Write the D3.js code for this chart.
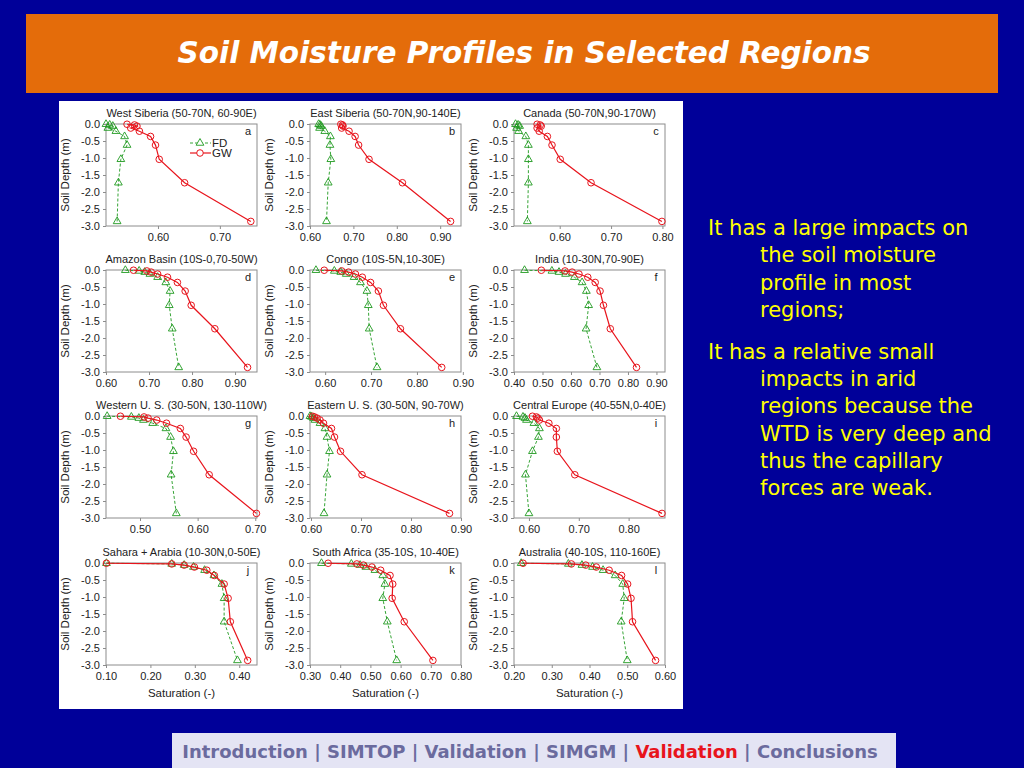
<!DOCTYPE html>
<html>
<head>
<meta charset="utf-8">
<script src="https://cdn.jsdelivr.net/npm/d3@7"></script>
<style>
  body { margin: 0; background: #000099; }
  svg { display: block; }
</style>
</head>
<body>
<svg id="slide" width="1024" height="768"></svg>
<script>
// data ////////////////////////////////////////////////////////////////
// CLM soil layer node depths (m), drawn negative
const depths = [-0.007, -0.028, -0.062, -0.119, -0.212, -0.366, -0.620, -1.038, -1.728, -2.865];

const regions = [
  "West Siberia (50-70N, 60-90E)", "East Siberia (50-70N,90-140E)", "Canada (50-70N,90-170W)",
  "Amazon Basin (10S-0,70-50W)", "Congo (10S-5N,10-30E)", "India (10-30N,70-90E)",
  "Western U. S. (30-50N, 130-110W)", "Eastern U. S. (30-50N, 90-70W)", "Central Europe (40-55N,0-40E)",
  "Sahara + Arabia (10-30N,0-50E)", "South Africa (35-10S, 10-40E)", "Australia (40-10S, 110-160E)"
];
const letters = ["a", "b", "c", "d", "e", "f", "g", "h", "i", "j", "k", "l"];

const xDomains = [
  [0.516, 0.760], [0.600, 0.948], [0.511, 0.805],
  [0.600, 0.951], [0.567, 0.896], [0.400, 0.930],
  [0.441, 0.703], [0.598, 0.900], [0.570, 0.873],
  [0.100, 0.440], [0.300, 0.800], [0.200, 0.600]
];
const xTicks = [
  [0.60, 0.70], [0.60, 0.70, 0.80, 0.90], [0.60, 0.70, 0.80],
  [0.60, 0.70, 0.80, 0.90], [0.60, 0.70, 0.80, 0.90], [0.40, 0.50, 0.60, 0.70, 0.80, 0.90],
  [0.50, 0.60, 0.70], [0.60, 0.70, 0.80, 0.90], [0.60, 0.70, 0.80],
  [0.10, 0.20, 0.30, 0.40], [0.30, 0.40, 0.50, 0.60, 0.70, 0.80], [0.20, 0.30, 0.40, 0.50, 0.60]
];
const yTicks = [0.0, -0.5, -1.0, -1.5, -2.0, -2.5, -3.0];

// saturation, FD run (free drainage)
const fdSat = [
  [0.516, 0.522, 0.527, 0.519, 0.532, 0.546, 0.550, 0.540, 0.536, 0.534],
  [0.620, 0.623, 0.626, 0.622, 0.634, 0.647, 0.646, 0.648, 0.642, 0.638],
  [0.514, 0.519, 0.522, 0.516, 0.520, 0.534, 0.539, 0.539, 0.539, 0.537],
  [0.645, 0.677, 0.690, 0.702, 0.720, 0.739, 0.749, 0.747, 0.754, 0.769],
  [0.580, 0.620, 0.634, 0.646, 0.663, 0.677, 0.691, 0.694, 0.696, 0.713],
  [0.437, 0.533, 0.558, 0.581, 0.612, 0.639, 0.654, 0.662, 0.653, 0.691],
  [0.443, 0.485, 0.498, 0.506, 0.522, 0.545, 0.553, 0.558, 0.554, 0.563],
  [0.598, 0.601, 0.605, 0.608, 0.618, 0.628, 0.632, 0.637, 0.632, 0.626],
  [0.575, 0.588, 0.592, 0.595, 0.610, 0.621, 0.619, 0.607, 0.593, 0.600],
  [0.101, 0.248, 0.276, 0.297, 0.322, 0.343, 0.361, 0.366, 0.366, 0.396],
  [0.338, 0.437, 0.466, 0.485, 0.515, 0.541, 0.548, 0.541, 0.556, 0.587],
  [0.219, 0.344, 0.380, 0.408, 0.436, 0.468, 0.488, 0.492, 0.484, 0.500]
];
// saturation, GW run (with groundwater)
const gwSat = [
  [0.550, 0.562, 0.566, 0.556, 0.570, 0.588, 0.596, 0.602, 0.643, 0.750],
  [0.671, 0.675, 0.676, 0.673, 0.690, 0.704, 0.712, 0.736, 0.813, 0.924],
  [0.556, 0.562, 0.564, 0.556, 0.560, 0.576, 0.585, 0.601, 0.661, 0.799],
  [0.664, 0.695, 0.705, 0.720, 0.743, 0.766, 0.784, 0.798, 0.853, 0.929],
  [0.598, 0.636, 0.651, 0.666, 0.681, 0.699, 0.716, 0.727, 0.764, 0.854],
  [0.496, 0.579, 0.604, 0.628, 0.659, 0.685, 0.702, 0.714, 0.738, 0.830],
  [0.466, 0.507, 0.514, 0.529, 0.546, 0.570, 0.580, 0.593, 0.620, 0.702],
  [0.603, 0.607, 0.612, 0.618, 0.625, 0.641, 0.647, 0.659, 0.702, 0.877],
  [0.607, 0.615, 0.618, 0.621, 0.640, 0.655, 0.655, 0.657, 0.692, 0.867],
  [0.101, 0.248, 0.276, 0.299, 0.327, 0.344, 0.366, 0.375, 0.380, 0.419],
  [0.360, 0.455, 0.477, 0.505, 0.534, 0.565, 0.574, 0.572, 0.612, 0.707],
  [0.224, 0.352, 0.390, 0.418, 0.452, 0.485, 0.501, 0.510, 0.514, 0.575]
];

const noteParagraphs = [
  ["It has a large impacts on", "the soil moisture", "profile in most", "regions;"],
  ["It has a relative small", "impacts in arid", "regions because the", "WTD is very deep and", "thus the capillary", "forces are weak."]
];
const navItems = ["Introduction", "SIMTOP", "Validation", "SIMGM", "Validation", "Conclusions"];
const navCurrent = 4;

// slide frame /////////////////////////////////////////////////////////
const svg = d3.select("#slide");
const plotFont = "'Liberation Sans', Arial, sans-serif";
const slideFont = "'DejaVu Sans', sans-serif";

svg.append("rect").attr("width", 1024).attr("height", 768).attr("fill", "#000099");

svg.append("rect")
  .attr("x", 26).attr("y", 14).attr("width", 972).attr("height", 79)
  .attr("fill", "#E46C0A");

svg.append("text")
  .attr("x", 524).attr("y", 63)
  .attr("text-anchor", "middle")
  .attr("font-family", slideFont)
  .attr("font-size", 29.5)
  .attr("font-weight", "bold")
  .attr("font-style", "italic")
  .attr("fill", "#ffffff")
  .text("Soil Moisture Profiles in Selected Regions");

svg.append("rect")
  .attr("x", 59).attr("y", 101).attr("width", 624).attr("height", 608)
  .attr("fill", "#ffffff");

// small multiples /////////////////////////////////////////////////////
const colX = [106, 310, 514];
const rowY = [124, 270, 416, 563];
const pw = 151, ph = 102;
const fdColor = "#1f9a1f", gwColor = "#e8141c", axisColor = "#8c8c8c", textColor = "#222";

const y = d3.scaleLinear().domain([0, -3]).range([0, ph]);
const triangle = d3.symbol().type(d3.symbolTriangle).size(26);

regions.forEach((name, i) => {
  const col = i % 3, row = Math.floor(i / 3);
  const g = svg.append("g").attr("transform", `translate(${colX[col]},${rowY[row]})`);

  const x = d3.scaleLinear().domain(xDomains[i]).range([0, pw]);

  const xAxis = g.append("g")
    .attr("transform", `translate(0,${ph})`)
    .call(d3.axisBottom(x).tickValues(xTicks[i]).tickFormat(d => d.toFixed(2)).tickSize(3).tickPadding(4));
  const yAxis = g.append("g")
    .call(d3.axisLeft(y).tickValues(yTicks).tickFormat(d => d.toFixed(1)).tickSize(3).tickPadding(3));

  [xAxis, yAxis].forEach(a => {
    a.select(".domain").remove();
    a.selectAll("line").attr("stroke", axisColor);
    a.selectAll("text")
      .attr("font-family", plotFont)
      .attr("font-size", 11)
      .attr("fill", textColor);
  });

  g.append("rect")
    .attr("width", pw).attr("height", ph)
    .attr("fill", "none").attr("stroke", axisColor).attr("stroke-width", 1);

  g.append("text")
    .attr("x", pw / 2).attr("y", -7)
    .attr("text-anchor", "middle")
    .attr("font-family", plotFont).attr("font-size", 11).attr("fill", textColor)
    .text(name);

  g.append("text")
    .attr("x", pw - 9).attr("y", 11)
    .attr("text-anchor", "middle")
    .attr("font-family", plotFont).attr("font-size", 11).attr("fill", textColor)
    .text(letters[i]);

  g.append("text")
    .attr("transform", `translate(-37,${ph / 2}) rotate(-90)`)
    .attr("text-anchor", "middle")
    .attr("font-family", plotFont).attr("font-size", 11.5).attr("fill", textColor)
    .text("Soil Depth (m)");

  if (row === 3) {
    g.append("text")
      .attr("x", pw / 2).attr("y", ph + 32)
      .attr("text-anchor", "middle")
      .attr("font-family", plotFont).attr("font-size", 11.5).attr("fill", textColor)
      .text("Saturation (-)");
  }

  const line = d3.line().x(d => x(d.v)).y(d => y(d.z));
  const fd = depths.map((z, k) => ({ z: z, v: fdSat[i][k] }));
  const gw = depths.map((z, k) => ({ z: z, v: gwSat[i][k] }));

  g.append("path").datum(fd)
    .attr("d", line).attr("fill", "none")
    .attr("stroke", fdColor).attr("stroke-width", 0.9).attr("stroke-dasharray", "3,2");
  g.selectAll(".fd").data(fd).join("path")
    .attr("class", "fd")
    .attr("transform", d => `translate(${x(d.v)},${y(d.z)})`)
    .attr("d", triangle)
    .attr("fill", "none").attr("stroke", fdColor).attr("stroke-width", 0.9);

  g.append("path").datum(gw)
    .attr("d", line).attr("fill", "none")
    .attr("stroke", gwColor).attr("stroke-width", 1.2);
  g.selectAll(".gw").data(gw).join("circle")
    .attr("class", "gw")
    .attr("cx", d => x(d.v)).attr("cy", d => y(d.z)).attr("r", 3.3)
    .attr("fill", "none").attr("stroke", gwColor).attr("stroke-width", 1);

  // legend in first panel
  if (i === 0) {
    const lg = g.append("g").attr("transform", "translate(84,19)");
    [["FD", fdColor, "3,2"], ["GW", gwColor, null]].forEach((s, k) => {
      const yy = k * 10;
      lg.append("line").attr("x1", 0).attr("x2", 21).attr("y1", yy).attr("y2", yy)
        .attr("stroke", s[1]).attr("stroke-width", k ? 1.2 : 0.9).attr("stroke-dasharray", s[2]);
      if (k === 0) {
        lg.append("path").attr("transform", `translate(10,${yy})`).attr("d", triangle)
          .attr("fill", "#fff").attr("stroke", s[1]).attr("stroke-width", 0.9);
      } else {
        lg.append("circle").attr("cx", 10).attr("cy", yy).attr("r", 3.3)
          .attr("fill", "#fff").attr("stroke", s[1]);
      }
      lg.append("text").attr("x", 22).attr("y", yy + 4)
        .attr("font-family", plotFont).attr("font-size", 11.5).attr("fill", textColor)
        .text(s[0]);
    });
  }
});

// notes on the right //////////////////////////////////////////////////
let baseY = 235;
noteParagraphs.forEach(par => {
  par.forEach((t, k) => {
    svg.append("text")
      .attr("x", k === 0 ? 708 : 760).attr("y", baseY)
      .attr("font-family", slideFont).attr("font-size", 21)
      .attr("fill", "#ffff00")
      .text(t);
    baseY += 27.3;
  });
  baseY += 14.5;
});

// navigation bar //////////////////////////////////////////////////////
svg.append("rect")
  .attr("x", 172).attr("y", 733).attr("width", 724).attr("height", 35)
  .attr("fill", "#e4e4f4");

const nav = svg.append("text")
  .attr("x", 530).attr("y", 758)
  .attr("text-anchor", "middle")
  .attr("font-family", slideFont).attr("font-size", 18).attr("font-weight", "bold")
  .attr("fill", "#6b6b9e");
navItems.forEach((t, k) => {
  if (k > 0) nav.append("tspan").text(" | ");
  nav.append("tspan").attr("fill", k === navCurrent ? "#e8141c" : null).text(t);
});
</script>
</body>
</html>
